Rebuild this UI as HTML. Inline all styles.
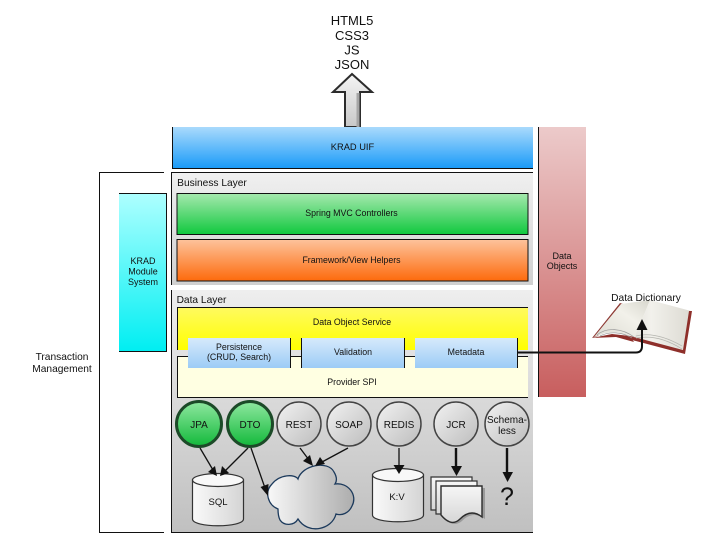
<!DOCTYPE html>
<html>
<head>
<meta charset="utf-8">
<style>
html,body{margin:0;padding:0;background:#fff;width:720px;height:540px;overflow:hidden}
svg{display:block;filter:blur(0.3px)}
text{font-family:"Liberation Sans",Arial,sans-serif;fill:#111;text-anchor:middle}
</style>
</head>
<body>
<svg width="720" height="540" viewBox="0 0 720 540" xmlns="http://www.w3.org/2000/svg">
<defs>
<linearGradient id="blue" x1="0" y1="0" x2="0" y2="1"><stop offset="0" stop-color="#aadafc"/><stop offset="1" stop-color="#1b9bf8"/></linearGradient>
<linearGradient id="green" x1="0" y1="0" x2="0" y2="1"><stop offset="0" stop-color="#a6e8ae"/><stop offset="1" stop-color="#10c83e"/></linearGradient>
<linearGradient id="orange" x1="0" y1="0" x2="0" y2="1"><stop offset="0" stop-color="#fdc39c"/><stop offset="1" stop-color="#fd6a0c"/></linearGradient>
<linearGradient id="cyan" x1="0" y1="0" x2="0" y2="1"><stop offset="0" stop-color="#aeffff"/><stop offset="1" stop-color="#00eef2"/></linearGradient>
<linearGradient id="red" x1="0" y1="0" x2="0" y2="1"><stop offset="0" stop-color="#eccaca"/><stop offset="1" stop-color="#c85e5e"/></linearGradient>
<linearGradient id="gray1" x1="0" y1="0" x2="0" y2="1"><stop offset="0" stop-color="#f0f0f0"/><stop offset="1" stop-color="#d0d0d0"/></linearGradient>
<linearGradient id="gray2" x1="0" y1="0" x2="0" y2="1"><stop offset="0" stop-color="#eeeeee"/><stop offset="1" stop-color="#c0c0c0"/></linearGradient>
<linearGradient id="yellow" x1="0" y1="0" x2="0" y2="1"><stop offset="0" stop-color="#fffa60"/><stop offset="1" stop-color="#ffff00"/></linearGradient>
<linearGradient id="sub" x1="0" y1="0" x2="0" y2="1"><stop offset="0" stop-color="#d6e9fb"/><stop offset="1" stop-color="#9ccbf6"/></linearGradient>
<linearGradient id="ball" x1="0" y1="0" x2="1" y2="1"><stop offset="0" stop-color="#f2f2f2"/><stop offset="1" stop-color="#bcbcbc"/></linearGradient>
<linearGradient id="gball" x1="0" y1="0" x2="0" y2="1"><stop offset="0" stop-color="#8fe8a0"/><stop offset="1" stop-color="#12b83a"/></linearGradient>
<linearGradient id="cloud" x1="0" y1="0" x2="1" y2="0"><stop offset="0" stop-color="#f8f8f8"/><stop offset="1" stop-color="#adadad"/></linearGradient>
<linearGradient id="cyl" x1="0" y1="0" x2="1" y2="0"><stop offset="0" stop-color="#fafafa"/><stop offset="1" stop-color="#d4d4d4"/></linearGradient>
<linearGradient id="arrow" x1="0" y1="0" x2="0" y2="1"><stop offset="0" stop-color="#f4f4f4"/><stop offset="1" stop-color="#c8c8c8"/></linearGradient>
<linearGradient id="page" x1="0" y1="0" x2="0" y2="1"><stop offset="0" stop-color="#f6f6f6"/><stop offset="1" stop-color="#d6d6d6"/></linearGradient>
<linearGradient id="bookr" x1="0" y1="0" x2="1" y2="0"><stop offset="0" stop-color="#e4e3dc"/><stop offset="0.3" stop-color="#f2f1ec"/><stop offset="1" stop-color="#dcdad2"/></linearGradient>
<linearGradient id="bookl" x1="0" y1="1" x2="1" y2="0"><stop offset="0" stop-color="#dcdbd2"/><stop offset="0.6" stop-color="#f2f1ea"/><stop offset="1" stop-color="#d8d7ce"/></linearGradient>
</defs>

<!-- top label -->
<text x="352" y="25" font-size="13">HTML5</text>
<text x="352" y="40" font-size="13">CSS3</text>
<text x="352" y="54.500" font-size="13">JS</text>
<text x="352" y="69" font-size="13">JSON</text>

<!-- up arrow -->
<path d="M352,74 L372,92 L360,92 L360,127 L345,127 L345,92 L333,92 Z" fill="url(#arrow)" stroke="#2c2c2c" stroke-width="2"/>
<path d="M358,93 L358,127" stroke="#a6a6a6" stroke-width="3"/>

<!-- KRAD UIF -->
<rect x="172" y="127" width="361" height="41" fill="url(#blue)"/>
<path d="M172.500,127 V168.500 H533" fill="none" stroke="#111" stroke-width="1"/>
<text x="352.500" y="150" font-size="9.300">KRAD UIF</text>

<!-- Data Objects -->
<rect x="538" y="127" width="48" height="270" fill="url(#red)"/>
<line x1="538.500" y1="127" x2="538.500" y2="397" stroke="#111"/>
<text x="562" y="259" font-size="9">Data</text>
<text x="562" y="269" font-size="9">Objects</text>

<!-- Transaction bracket -->
<path d="M164,172.500 H99.500 V532.500 H164" fill="none" stroke="#111" stroke-width="1"/>
<text x="62" y="360" font-size="10.200">Transaction</text>
<text x="62" y="372" font-size="10.200">Management</text>

<!-- KRAD Module -->
<rect x="119" y="193" width="48" height="158" fill="url(#cyan)"/>
<path d="M119,193.500 H166.500 V351.500 H119" fill="none" stroke="#111"/>
<text x="143" y="264" font-size="9">KRAD</text>
<text x="143" y="274.500" font-size="9">Module</text>
<text x="143" y="285" font-size="9">System</text>

<!-- Business Layer -->
<rect x="171" y="172" width="362" height="113" fill="url(#gray1)"/>
<path d="M171.500,285 V172.500 H533" fill="none" stroke="#111"/>
<text x="212" y="186" font-size="10.200">Business Layer</text>
<rect x="177" y="193.500" width="351" height="41" fill="url(#green)" stroke="#111"/>
<text x="351.500" y="216" font-size="8.800">Spring MVC Controllers</text>
<rect x="177" y="239.500" width="351" height="41.500" fill="url(#orange)" stroke="#111"/>
<text x="351.500" y="263" font-size="8.800">Framework/View Helpers</text>

<!-- Data Layer -->
<rect x="171" y="290" width="362" height="242" fill="url(#gray2)"/>
<path d="M171.500,290 V532.500 H533" fill="none" stroke="#111"/>
<text x="201.500" y="303" font-size="10.200">Data Layer</text>
<rect x="177" y="307" width="351" height="43" fill="url(#yellow)"/>
<path d="M528,307.500 H177.500 V350" fill="none" stroke="#111"/>
<text x="352" y="325" font-size="8.800">Data Object Service</text>
<rect x="177" y="356" width="351" height="41" fill="#ffffe2"/>
<path d="M528,356.500 H177.500 V397.500 H528" fill="none" stroke="#111"/>
<text x="352" y="385" font-size="8.800">Provider SPI</text>

<rect x="188" y="338" width="102" height="30" fill="url(#sub)"/>
<rect x="302" y="338" width="102" height="30" fill="url(#sub)"/>
<rect x="415" y="338" width="102" height="30" fill="url(#sub)"/>
<line x1="290.500" y1="338" x2="290.500" y2="368" stroke="#111"/>
<line x1="301.500" y1="338" x2="301.500" y2="368" stroke="#111"/>
<line x1="404.500" y1="338" x2="404.500" y2="368" stroke="#111"/>
<line x1="517.500" y1="338" x2="517.500" y2="368" stroke="#111"/>
<text x="239" y="350" font-size="8.800">Persistence</text>
<text x="239" y="360" font-size="8.800">(CRUD, Search)</text>
<text x="353" y="355" font-size="8.800">Validation</text>
<text x="466" y="355" font-size="8.800">Metadata</text>

<!-- circles -->
<circle cx="199" cy="424" r="22.500" fill="url(#gball)" stroke="#1c4a28" stroke-width="3"/>
<circle cx="250" cy="424" r="22.500" fill="url(#gball)" stroke="#1c4a28" stroke-width="3"/>
<circle cx="299" cy="424" r="22" fill="url(#ball)" stroke="#444" stroke-width="1.500"/>
<circle cx="349" cy="424" r="22" fill="url(#ball)" stroke="#444" stroke-width="1.500"/>
<circle cx="399" cy="424" r="22" fill="url(#ball)" stroke="#444" stroke-width="1.500"/>
<circle cx="456" cy="424" r="22" fill="url(#ball)" stroke="#444" stroke-width="1.500"/>
<circle cx="507" cy="424" r="22" fill="url(#ball)" stroke="#444" stroke-width="1.500"/>
<text x="199" y="428" font-size="10">JPA</text>
<text x="250" y="428" font-size="10">DTO</text>
<text x="299" y="428" font-size="10">REST</text>
<text x="349" y="428" font-size="10">SOAP</text>
<text x="399" y="428" font-size="10">REDIS</text>
<text x="456" y="428" font-size="10">JCR</text>
<text x="507" y="423" font-size="10">Schema-</text>
<text x="507" y="434" font-size="10">less</text>

<!-- SQL cylinder -->
<path d="M192.500,480 V519 C192.500,528 243.500,528 243.500,519 V480 Z" fill="url(#cyl)" stroke="#333" stroke-width="1.200"/>
<ellipse cx="218" cy="480" rx="25.500" ry="6.500" fill="#f8f8f8" stroke="#333" stroke-width="1.200"/>
<text x="218" y="505" font-size="9.500">SQL</text>

<!-- KV cylinder -->
<path d="M372.500,475 V515 C372.500,524 423.500,524 423.500,515 V475 Z" fill="url(#cyl)" stroke="#333" stroke-width="1.200"/>
<ellipse cx="398" cy="475" rx="25.500" ry="6.500" fill="#f8f8f8" stroke="#333" stroke-width="1.200"/>
<text x="397" y="500" font-size="9.500">K:V</text>

<!-- Cloud -->
<path d="M278,509 C268,505 264,492 272,484 C280,474 295,474 298,479 C302,465 328,460 334,472 C337,477 337,481 335,484 C348,482 358,495 352,506 C349,513 342,516 336,514 C332,530 308,535 298,519 C294,526 284,526 280,520 C278,516 278,512 278,509 Z" fill="url(#cloud)" stroke="#1c3a5c" stroke-width="1.300"/>

<!-- Documents -->
<path d="M431,477 H472 V510 H431 Z" fill="url(#page)" stroke="#333" stroke-width="1.200"/>
<path d="M436,481 H477 V514 H436 Z" fill="url(#page)" stroke="#333" stroke-width="1.200"/>
<path d="M444,488 H485 V519 C474,511 466,517 462,521 C455,527 448,523 444,518 Z" fill="#9a9a9a"/>
<path d="M441,486 H482 V517 C472,509 464,515 460,519 C453,526 446,521 441,515 Z" fill="url(#page)" stroke="#2c2c2c" stroke-width="1.400"/>

<!-- question mark -->
<text x="507" y="505" font-size="25">?</text>

<!-- arrows -->
<g stroke="#111" fill="none" stroke-width="1.300">
<line x1="200" y1="448" x2="213" y2="470"/>
<line x1="248" y1="448" x2="225" y2="471"/>
<line x1="251" y1="448" x2="265" y2="488"/>
<line x1="300" y1="448" x2="309" y2="460"/>
<line x1="348" y1="448" x2="322" y2="462"/>
<line x1="399" y1="448" x2="399" y2="466"/>
<line x1="456" y1="448" x2="456" y2="468" stroke-width="2.400"/>
<line x1="507" y1="448" x2="507" y2="474" stroke-width="2.400"/>
</g>
<g fill="#111">
<polygon points="217,476 208,472 215,466"/>
<polygon points="220,476 222,466 229,473"/>
<polygon points="268,496 260.500,487 268.500,484"/>
<polygon points="313,466 303,461 310,455"/>
<polygon points="315,466 320,457 325,464"/>
<polygon points="399,474 393.500,465 404.500,465"/>
<polygon points="456.500,476 451,466 462,466"/>
<polygon points="507.500,482 502.500,472 513,472"/>
</g>

<!-- Book -->
<path d="M592,338 L620,303 L623,304 L598,336 Z" fill="#8e3a34"/>
<polygon points="594,337 621,304 650,300 640,325 634,339 618,332 605,333" fill="url(#bookl)"/>
<polygon points="650,300 691,311 684,350 634,338 640,325" fill="url(#bookr)"/>
<polygon points="692,311 685,354 632,340 630,336 683,350 689,311" fill="#8e2f2a"/>
<polygon points="592,338 612,334 630,336 634,342 616,337" fill="#8e2f2a"/>
<path d="M597,335 C606,327 622,328 634,337 M600,336 C610,331 622,332 632,338" fill="none" stroke="#999" stroke-width="0.700"/>
<path d="M636,338 C652,335 668,340 682,349 M636,336 C652,332 668,338 682,346" fill="none" stroke="#b4b4ae" stroke-width="0.700"/>
<text x="646" y="301" font-size="10.200">Data Dictionary</text>

<!-- Metadata connector -->
<path d="M517,352.500 H636 Q642,352.500 642,346 V328" fill="none" stroke="#111" stroke-width="2"/>
<polygon points="642,319 647.500,330 636.500,330" fill="#111"/>
</svg>
</body>
</html>
